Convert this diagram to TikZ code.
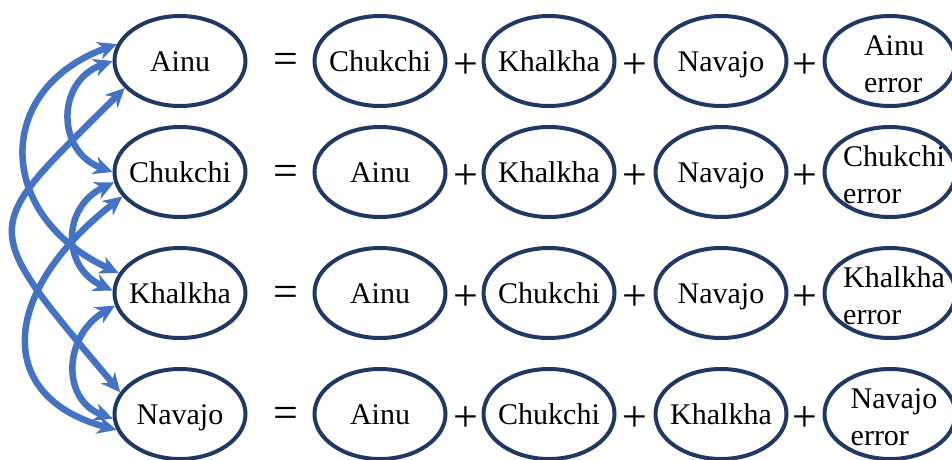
\documentclass[tikz,border=0pt]{standalone}
\usepackage{fontspec}
\setmainfont{Liberation Serif}
\usetikzlibrary{arrows.meta,shapes.geometric}
\definecolor{navyline}{HTML}{1F3864}
\definecolor{linkblue}{HTML}{4472C4}

\begin{document}
\begin{tikzpicture}[x=1pt,y=1pt,
  oval/.style={ellipse, draw=navyline, line width=4pt,
    minimum width=131pt, minimum height=90pt, inner sep=0pt},
  word/.style={inner sep=0pt, font=\fontsize{30}{36}\selectfont,
    text height=27pt, text depth=7pt},
  twoline/.style={inner sep=0pt, align=left, font=\fontsize{30}{37}\selectfont},
  op/.style={inner sep=0pt, anchor=base, font=\fontsize{44}{44}\selectfont},
  link/.style={draw=linkblue, line width=6.5pt, {Stealth[length=19pt,width=18pt,inset=6pt]}-{Stealth[length=19pt,width=18pt,inset=6pt]}}
]
\useasboundingbox (0,0) rectangle (952,459);

% four rows: language = three other languages + its own error term
\foreach \r/\yy/\ta/\tb/\tc/\td in {
    1/398/Ainu/Chukchi/Khalkha/Navajo,
    2/287/Chukchi/Ainu/Khalkha/Navajo,
    3/166/Khalkha/Ainu/Chukchi/Navajo,
    4/45/Navajo/Ainu/Chukchi/Khalkha} {
  \node[oval] (a\r) at (180,\yy) {};
  \node[word] (at\r) at (a\r) {\ta};
  \node[op] (eq\r) at (286,\yy-13) {=};
  \node[oval] (b\r) at (380,\yy) {};
  \node[word] (bt\r) at (b\r) {\tb};
  \node[op] (pa\r) at (466,\yy-17) {+};
  \node[oval] (c\r) at (549,\yy) {};
  \node[word] (ct\r) at (c\r) {\tc};
  \node[op] (pb\r) at (635,\yy-17) {+};
  \node[oval] (d\r) at (721,\yy) {};
  \node[word] (dt\r) at (d\r) {\td};
  \node[op] (pc\r) at (805,\yy-17) {+};
  \node[oval] (e\r) at (890,\yy) {};
  \node[twoline] (et\r) at ([xshift=4pt,yshift=-3pt]e\r) {\ta\\error};
}

% pairwise links between the left-hand languages
\draw[link] (a1.180) .. controls +(200:60) and +(160:60) .. (a2.180);
\draw[link] (a2.189) .. controls +(205:57) and +(155:57) .. (a3.178);
\draw[link] (a3.191) .. controls +(210:60) and +(160:55) .. (a4.184);
\draw[link] (a1.165) .. controls +(200:132) and +(155:136) .. (a3.162);
\draw[link] (a2.203) .. controls +(218:158) and +(165:125) .. (a4.194);
\draw[link] (a1.206) .. controls +(225:205) and +(130:225) .. (a4.160);
\end{tikzpicture}
\end{document}
